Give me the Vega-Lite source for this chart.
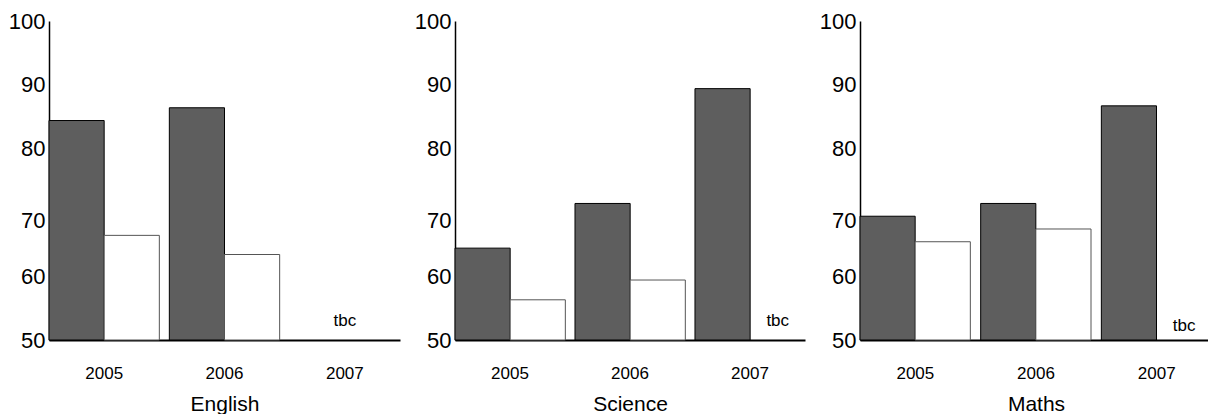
{
  "$schema": "https://vega.github.io/schema/vega-lite/v6.json",
  "padding": {"left": 8, "top": 10, "right": 0, "bottom": 0},
  "background": "white",
  "spacing": 14,
  "config": {
    "view": {"stroke": null},
    "font": "Liberation Sans, Arial, sans-serif",
    "axisY": {
      "domainColor": "black", "domainWidth": 1.5, "ticks": false, "grid": false,
      "labelFontSize": 22, "labelColor": "black", "labelPadding": 4,
      "labelFont": "Liberation Sans, Arial, sans-serif",
      "labelOffset": {"condition": {"test": "datum.value == 70", "value": 8}, "value": 0}
    },
    "axisX": {
      "domainColor": "black", "domainWidth": 2, "ticks": false, "grid": false,
      "labelFontSize": 17, "labelColor": "black", "labelPadding": 25, "labelAngle": 0,
      "labelFont": "Liberation Sans, Arial, sans-serif",
      "titleFontSize": 21, "titleFontWeight": "normal", "titleColor": "black", "titlePadding": 12,
      "titleFont": "Liberation Sans, Arial, sans-serif"
    }
  },
  "datasets": {
    "scores": [
      {"subject": "English", "year": "2005", "series": "a", "value": 84.4},
      {"subject": "English", "year": "2005", "series": "b", "value": 66.4},
      {"subject": "English", "year": "2006", "series": "a", "value": 86.4},
      {"subject": "English", "year": "2006", "series": "b", "value": 63.4},
      {"subject": "Science", "year": "2005", "series": "a", "value": 64.4},
      {"subject": "Science", "year": "2005", "series": "b", "value": 56.3},
      {"subject": "Science", "year": "2006", "series": "a", "value": 71.4},
      {"subject": "Science", "year": "2006", "series": "b", "value": 59.4},
      {"subject": "Science", "year": "2007", "series": "a", "value": 89.4},
      {"subject": "Maths", "year": "2005", "series": "a", "value": 69.4},
      {"subject": "Maths", "year": "2005", "series": "b", "value": 65.4},
      {"subject": "Maths", "year": "2006", "series": "a", "value": 71.4},
      {"subject": "Maths", "year": "2006", "series": "b", "value": 67.4},
      {"subject": "Maths", "year": "2007", "series": "a", "value": 86.7}
    ],
    "tbc": [
      {"subject": "English", "year": "2007", "series": "b", "label": "tbc"},
      {"subject": "Science", "year": "2007", "series": "b", "label": "tbc"},
      {"subject": "Maths", "year": "2007", "series": "b", "label": "tbc"}
    ]
  },
  "hconcat": [
    {
      "width": 351, "height": 319,
      "layer": [
        {
          "data": {"name": "scores"},
          "transform": [{"filter": "datum.subject == 'English'"}],
          "mark": {"type": "bar", "strokeWidth": 1},
          "encoding": {
            "x": {"field": "year", "type": "nominal", "title": "English",
                  "scale": {"domain": ["2005", "2006", "2007"], "paddingInner": 0.083, "paddingOuter": 0}},
            "xOffset": {"field": "series", "type": "nominal", "scale": {"domain": ["a", "b"], "paddingInner": 0, "paddingOuter": 0}},
            "y": {"field": "value", "type": "quantitative", "scale": {"domain": [50, 100], "zero": false, "nice": false},
                  "axis": {"title": null, "values": [50, 60, 70, 80, 90, 100]}},
            "y2": {"datum": 50},
            "fill": {"field": "series", "type": "nominal", "scale": {"domain": ["a", "b"], "range": ["#5e5e5e", "#ffffff"]}, "legend": null},
            "stroke": {"field": "series", "type": "nominal", "scale": {"domain": ["a", "b"], "range": ["#000000", "#555555"]}, "legend": null}
          }
        },
        {
          "data": {"name": "tbc"},
          "transform": [{"filter": "datum.subject == 'English'"}],
          "mark": {"type": "text", "fontSize": 17, "color": "black", "baseline": "alphabetic", "dy": -14},
          "encoding": {
            "x": {"field": "year", "type": "nominal"},
            "y": {"datum": 50},
            "text": {"field": "label"}
          }
        }
      ]
    },
    {
      "width": 350, "height": 319,
      "layer": [
        {
          "data": {"name": "scores"},
          "transform": [{"filter": "datum.subject == 'Science'"}],
          "mark": {"type": "bar", "strokeWidth": 1},
          "encoding": {
            "x": {"field": "year", "type": "nominal", "title": "Science",
                  "scale": {"domain": ["2005", "2006", "2007"], "paddingInner": 0.083, "paddingOuter": 0}},
            "xOffset": {"field": "series", "type": "nominal", "scale": {"domain": ["a", "b"], "paddingInner": 0, "paddingOuter": 0}},
            "y": {"field": "value", "type": "quantitative", "scale": {"domain": [50, 100], "zero": false, "nice": false},
                  "axis": {"title": null, "values": [50, 60, 70, 80, 90, 100]}},
            "y2": {"datum": 50},
            "fill": {"field": "series", "type": "nominal", "scale": {"domain": ["a", "b"], "range": ["#5e5e5e", "#ffffff"]}, "legend": null},
            "stroke": {"field": "series", "type": "nominal", "scale": {"domain": ["a", "b"], "range": ["#000000", "#555555"]}, "legend": null}
          }
        },
        {
          "data": {"name": "tbc"},
          "transform": [{"filter": "datum.subject == 'Science'"}],
          "mark": {"type": "text", "fontSize": 17, "color": "black", "baseline": "alphabetic", "dy": -14},
          "encoding": {
            "x": {"field": "year", "type": "nominal"},
            "xOffset": {"field": "series", "type": "nominal"},
            "y": {"datum": 50},
            "text": {"field": "label"}
          }
        }
      ]
    },
    {
      "width": 352, "height": 319,
      "layer": [
        {
          "data": {"name": "scores"},
          "transform": [{"filter": "datum.subject == 'Maths'"}],
          "mark": {"type": "bar", "strokeWidth": 1},
          "encoding": {
            "x": {"field": "year", "type": "nominal", "title": "Maths",
                  "scale": {"domain": ["2005", "2006", "2007"], "paddingInner": 0.083, "paddingOuter": 0}},
            "xOffset": {"field": "series", "type": "nominal", "scale": {"domain": ["a", "b"], "paddingInner": 0, "paddingOuter": 0}},
            "y": {"field": "value", "type": "quantitative", "scale": {"domain": [50, 100], "zero": false, "nice": false},
                  "axis": {"title": null, "values": [50, 60, 70, 80, 90, 100]}},
            "y2": {"datum": 50},
            "fill": {"field": "series", "type": "nominal", "scale": {"domain": ["a", "b"], "range": ["#5e5e5e", "#ffffff"]}, "legend": null},
            "stroke": {"field": "series", "type": "nominal", "scale": {"domain": ["a", "b"], "range": ["#000000", "#555555"]}, "legend": null}
          }
        },
        {
          "data": {"name": "tbc"},
          "transform": [{"filter": "datum.subject == 'Maths'"}],
          "mark": {"type": "text", "fontSize": 17, "color": "black", "baseline": "alphabetic", "dy": -9},
          "encoding": {
            "x": {"field": "year", "type": "nominal"},
            "xOffset": {"field": "series", "type": "nominal"},
            "y": {"datum": 50},
            "text": {"field": "label"}
          }
        }
      ]
    }
  ]
}
